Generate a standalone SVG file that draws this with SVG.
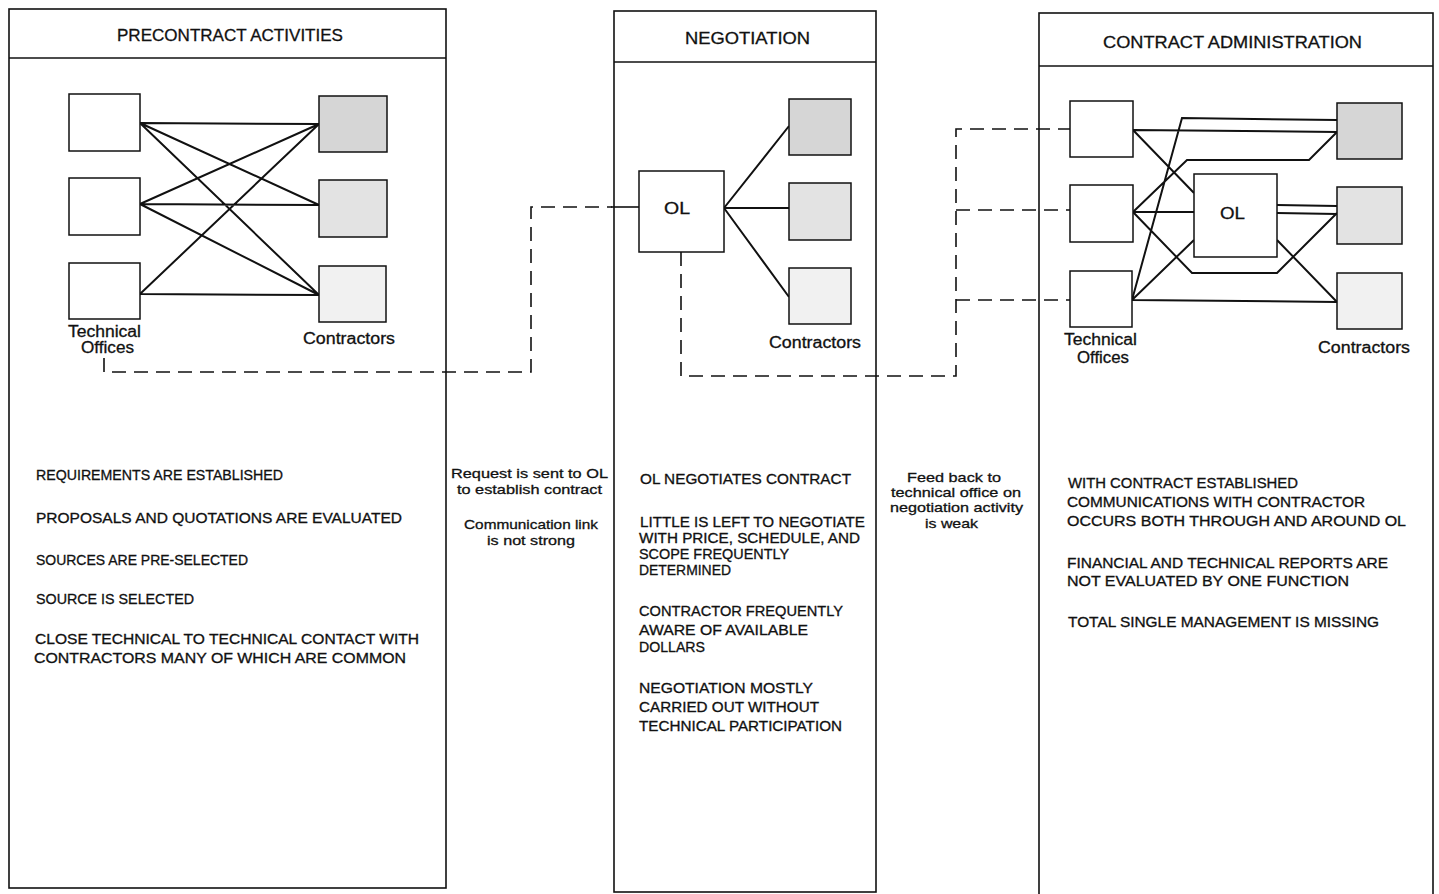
<svg xmlns="http://www.w3.org/2000/svg" width="1439" height="894" viewBox="0 0 1439 894">
<style>
.panel{fill:#fff;stroke:#111;stroke-width:1.6}
.div{stroke:#111;stroke-width:1.6;fill:none}
.box{fill:#fff;stroke:#111;stroke-width:1.5}
.c1{fill:#d6d6d6;stroke:#111;stroke-width:1.5}
.c2{fill:#e3e3e3;stroke:#111;stroke-width:1.5}
.c3{fill:#f1f1f1;stroke:#111;stroke-width:1.5}
.ln{stroke:#111;stroke-width:2;fill:none;stroke-linejoin:miter}
.dash{stroke:#111;stroke-width:1.6;fill:none;stroke-dasharray:14 8}
text{font-family:"Liberation Sans",Arial,sans-serif;fill:#111;stroke:#111;stroke-width:0.3}
.title{font-size:17px}
.body{font-size:14.5px}
.body2{font-size:14px}
.note{font-size:13.5px}
.lbl{font-size:16px}
.ol{font-size:17px}
</style>

<g id="panel-precontract">
<rect class="panel" x="9" y="9" width="437" height="879"/>
<line class="div" x1="9" y1="58" x2="446" y2="58"/>
<text class="title" x="117" y="41" textLength="226" lengthAdjust="spacingAndGlyphs">PRECONTRACT  ACTIVITIES</text>
<g class="body">
<text x="36" y="480" textLength="247" lengthAdjust="spacingAndGlyphs">REQUIREMENTS  ARE  ESTABLISHED</text>
<text x="36" y="523" textLength="366" lengthAdjust="spacingAndGlyphs">PROPOSALS  AND  QUOTATIONS  ARE  EVALUATED</text>
<text x="36" y="565" textLength="212" lengthAdjust="spacingAndGlyphs">SOURCES  ARE  PRE-SELECTED</text>
<text x="36" y="604" textLength="158" lengthAdjust="spacingAndGlyphs">SOURCE  IS  SELECTED</text>
<text x="35" y="644" textLength="384" lengthAdjust="spacingAndGlyphs">CLOSE  TECHNICAL  TO  TECHNICAL  CONTACT  WITH</text>
<text x="34" y="663" textLength="372" lengthAdjust="spacingAndGlyphs">CONTRACTORS  MANY  OF  WHICH  ARE  COMMON</text>
</g>
</g>

<g id="panel-negotiation">
<rect class="panel" x="614" y="11" width="262" height="881"/>
<line class="div" x1="614" y1="62" x2="876" y2="62"/>
<text class="title" x="685" y="44" textLength="125" lengthAdjust="spacingAndGlyphs">NEGOTIATION</text>
<g class="body2">
<text x="640" y="484" textLength="211" lengthAdjust="spacingAndGlyphs">OL  NEGOTIATES  CONTRACT</text>
<text x="640" y="527" textLength="225" lengthAdjust="spacingAndGlyphs">LITTLE  IS  LEFT  TO  NEGOTIATE</text>
<text x="639" y="543" textLength="221" lengthAdjust="spacingAndGlyphs">WITH  PRICE,  SCHEDULE,  AND</text>
<text x="639" y="559" textLength="150" lengthAdjust="spacingAndGlyphs">SCOPE  FREQUENTLY</text>
<text x="639" y="575" textLength="92" lengthAdjust="spacingAndGlyphs">DETERMINED</text>
<text x="639" y="616" textLength="204" lengthAdjust="spacingAndGlyphs">CONTRACTOR  FREQUENTLY</text>
<text x="639" y="635" textLength="169" lengthAdjust="spacingAndGlyphs">AWARE  OF  AVAILABLE</text>
<text x="639" y="652" textLength="66" lengthAdjust="spacingAndGlyphs">DOLLARS</text>
<text x="639" y="693" textLength="174" lengthAdjust="spacingAndGlyphs">NEGOTIATION  MOSTLY</text>
<text x="639" y="712" textLength="180" lengthAdjust="spacingAndGlyphs">CARRIED  OUT  WITHOUT</text>
<text x="639" y="731" textLength="203" lengthAdjust="spacingAndGlyphs">TECHNICAL  PARTICIPATION</text>
</g>
</g>

<g id="panel-contract-admin">
<rect class="panel" x="1039" y="13" width="394" height="890"/>
<line class="div" x1="1039" y1="66" x2="1433" y2="66"/>
<text class="title" x="1103" y="48" textLength="259" lengthAdjust="spacingAndGlyphs">CONTRACT  ADMINISTRATION</text>
<g class="body2">
<text x="1068" y="488" textLength="230" lengthAdjust="spacingAndGlyphs">WITH  CONTRACT  ESTABLISHED</text>
<text x="1067" y="507" textLength="298" lengthAdjust="spacingAndGlyphs">COMMUNICATIONS  WITH  CONTRACTOR</text>
<text x="1067" y="526" textLength="339" lengthAdjust="spacingAndGlyphs">OCCURS  BOTH  THROUGH  AND  AROUND  OL</text>
<text x="1067" y="568" textLength="321" lengthAdjust="spacingAndGlyphs">FINANCIAL  AND  TECHNICAL  REPORTS  ARE</text>
<text x="1067" y="586" textLength="282" lengthAdjust="spacingAndGlyphs">NOT  EVALUATED  BY  ONE  FUNCTION</text>
<text x="1068" y="627" textLength="311" lengthAdjust="spacingAndGlyphs">TOTAL  SINGLE  MANAGEMENT  IS  MISSING</text>
</g>
</g>

<g id="note-request">
<text class="note" x="451" y="478" textLength="157" lengthAdjust="spacingAndGlyphs">Request is sent to OL</text>
<text class="note" x="457" y="494" textLength="145" lengthAdjust="spacingAndGlyphs">to establish contract</text>
<text class="note" x="464" y="529" textLength="134" lengthAdjust="spacingAndGlyphs">Communication link</text>
<text class="note" x="487" y="545" textLength="88" lengthAdjust="spacingAndGlyphs">is not strong</text>
</g>

<g id="note-feedback">
<text class="note" x="907" y="482" textLength="94" lengthAdjust="spacingAndGlyphs">Feed back to</text>
<text class="note" x="891" y="497" textLength="130" lengthAdjust="spacingAndGlyphs">technical office on</text>
<text class="note" x="890" y="512" textLength="133" lengthAdjust="spacingAndGlyphs">negotiation activity</text>
<text class="note" x="925" y="528" textLength="53" lengthAdjust="spacingAndGlyphs">is weak</text>
</g>

<g id="connectors">
<path class="ln" d="M140,123 L319,124 M140,123 L319,205 M140,123 L319,295 M140,204 L319,124 M140,204 L319,205 M140,204 L319,295 M140,294 L319,124 M140,294 L319,295"/>
<path class="ln" d="M724,208 L789,126 M724,208 L789,208 M724,208 L789,297"/>
<path class="ln" d="M1133,130 L1337,132 M1133,130 L1194,193 M1132,300 L1182,118 L1337,120 M1133,212 L1187,160 L1309,160 L1337,132 M1133,212 L1194,212 M1133,212 L1192,273 L1277,273 L1337,213 M1132,300 L1194,240 M1132,300 L1337,302 M1277,205 L1337,206 M1277,213 L1337,214 M1277,240 L1337,302"/>
<path class="dash" d="M104,358 L104,372 L531,372 L531,207 L612,207"/>
<path class="ln" d="M611,207 L639,207" style="stroke-width:1.6"/>
<path class="dash" d="M681,252 L681,376 L956,376 L956,129 L1070,129"/>
<path class="dash" d="M956,210 L1070,210"/>
<path class="dash" d="M956,300 L1070,300"/>
</g>

<g id="pc-tech-1"><rect class="box" x="69" y="94" width="71" height="57"/></g>
<g id="pc-tech-2"><rect class="box" x="69" y="178" width="71" height="57"/></g>
<g id="pc-tech-3"><rect class="box" x="69" y="263" width="71" height="56"/></g>
<g id="pc-tech-label">
<text class="lbl" x="68" y="337" textLength="73" lengthAdjust="spacingAndGlyphs">Technical</text>
<text class="lbl" x="81" y="353" textLength="53" lengthAdjust="spacingAndGlyphs">Offices</text>
</g>
<g id="pc-con-1"><rect class="c1" x="319" y="96" width="68" height="56"/></g>
<g id="pc-con-2"><rect class="c2" x="319" y="180" width="68" height="57"/></g>
<g id="pc-con-3"><rect class="c3" x="319" y="266" width="67" height="56"/></g>
<g id="pc-con-label"><text class="lbl" x="303" y="344" textLength="92" lengthAdjust="spacingAndGlyphs">Contractors</text></g>

<g id="ng-ol"><rect class="box" x="639" y="171" width="85" height="81"/><text class="ol" x="664" y="214" textLength="26" lengthAdjust="spacingAndGlyphs">OL</text></g>
<g id="ng-con-1"><rect class="c1" x="789" y="99" width="62" height="56"/></g>
<g id="ng-con-2"><rect class="c2" x="789" y="183" width="62" height="57"/></g>
<g id="ng-con-3"><rect class="c3" x="789" y="268" width="62" height="56"/></g>
<g id="ng-con-label"><text class="lbl" x="769" y="348" textLength="92" lengthAdjust="spacingAndGlyphs">Contractors</text></g>

<g id="ca-tech-1"><rect class="box" x="1070" y="101" width="63" height="56"/></g>
<g id="ca-tech-2"><rect class="box" x="1070" y="185" width="63" height="57"/></g>
<g id="ca-tech-3"><rect class="box" x="1070" y="271" width="62" height="56"/></g>
<g id="ca-tech-label">
<text class="lbl" x="1064" y="345" textLength="73" lengthAdjust="spacingAndGlyphs">Technical</text>
<text class="lbl" x="1077" y="363" textLength="52" lengthAdjust="spacingAndGlyphs">Offices</text>
</g>
<g id="ca-ol"><rect class="box" x="1194" y="174" width="83" height="83"/><text class="ol" x="1220" y="219" textLength="25" lengthAdjust="spacingAndGlyphs">OL</text></g>
<g id="ca-con-1"><rect class="c1" x="1337" y="103" width="65" height="56"/></g>
<g id="ca-con-2"><rect class="c2" x="1337" y="187" width="65" height="57"/></g>
<g id="ca-con-3"><rect class="c3" x="1337" y="273" width="65" height="56"/></g>
<g id="ca-con-label"><text class="lbl" x="1318" y="353" textLength="92" lengthAdjust="spacingAndGlyphs">Contractors</text></g>
</svg>
